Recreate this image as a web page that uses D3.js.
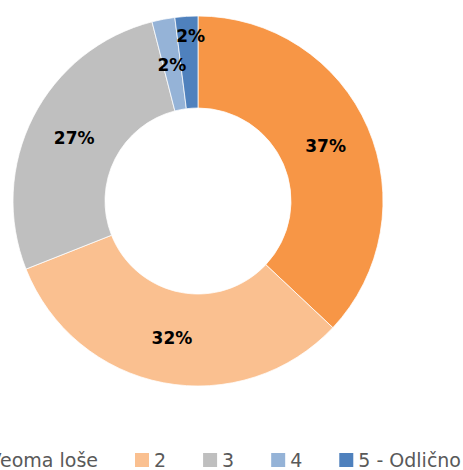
<!DOCTYPE html>
<html>
<head>
<meta charset="utf-8">
<script src="https://cdn.jsdelivr.net/npm/d3@7"></script>
<style>
  body { margin: 0; background: #fff; overflow: hidden; }
</style>
</head>
<body>
<div id="chart"></div>
<script>
var width = 463, height = 470;

var categories = ["Veoma loše", "2", "3", "4", "5 - Odlično"];
var values = [37, 32, 27, 2, 2];
var colors = ["#F79646", "#FAC090", "#BFBFBF", "#95B3D7", "#4F81BD"];

var cx = 198, cy = 201,
    outerR = 185, innerR = 93;

var color = d3.scaleOrdinal().domain(categories).range(colors);

var data = categories.map(function(c, i) { return {cat: c, value: values[i]}; });

var svg = d3.select("#chart").append("svg")
    .attr("width", width)
    .attr("height", height);

var pie = d3.pie().sort(null).value(function(d) { return d.value; });
var arc = d3.arc().innerRadius(innerR).outerRadius(outerR);
var labelArc = d3.arc().innerRadius((innerR + outerR) / 2).outerRadius((innerR + outerR) / 2);

var g = svg.append("g")
    .attr("transform", "translate(" + cx + "," + cy + ")");

var arcs = pie(data);

g.selectAll("path")
  .data(arcs)
  .enter().append("path")
    .attr("d", arc)
    .style("fill", function(d) { return color(d.data.cat); })
    .style("stroke", "#fff")
    .style("stroke-width", 0.75);

g.selectAll("text.lbl")
  .data(arcs)
  .enter().append("text")
    .attr("class", "lbl")
    .attr("transform", function(d, i) {
      var p = labelArc.centroid(d);
      // last small slice label is pushed outward so it doesn't overlap
      if (i == arcs.length - 1) {
        var a = (d.startAngle + d.endAngle) / 2, r = 165;
        p = [Math.sin(a) * r + 3, -Math.cos(a) * r];
      }
      return "translate(" + p[0] + "," + p[1] + ")";
    })
    .attr("dy", "0.36em")
    .style("text-anchor", "middle")
    .style("font-family", "'DejaVu Sans', sans-serif")
    .style("font-weight", "bold")
    .style("font-size", "17px")
    .style("fill", "#000")
    .text(function(d) { return d.data.value + "%"; });

// legend
var legend = svg.append("g");
var x = 0;
categories.forEach(function(c) {
  var it = legend.append("g");
  it.append("rect")
    .attr("x", 0).attr("y", 453)
    .attr("width", 14).attr("height", 14)
    .style("fill", color(c));
  var t = it.append("text")
    .attr("x", 19).attr("y", 466.5)
    .style("font-family", "'DejaVu Sans', sans-serif")
    .style("font-size", "19px")
    .style("fill", "#595959")
    .text(c);
  var w = t.node().getComputedTextLength();
  it.attr("transform", "translate(" + x + ",0)");
  x += 19 + w + 37;
});
var total = x - 37;
legend.attr("transform", "translate(" + (461 - total) + ",0)");
</script>
</body>
</html>
